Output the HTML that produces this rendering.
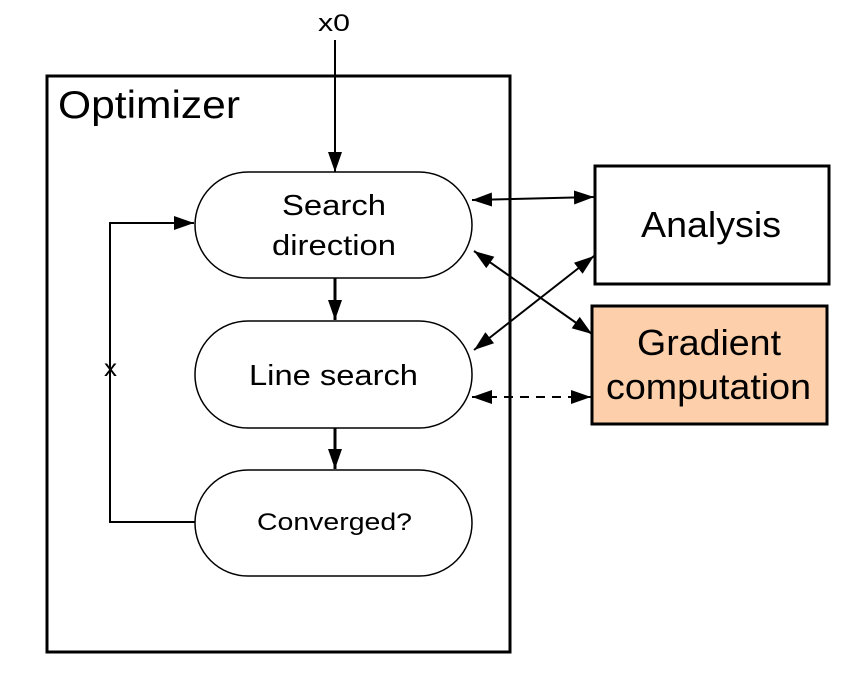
<!DOCTYPE html>
<html><head><style>body{margin:0;background:#fff}svg{display:block}text{font-family:"Liberation Sans",Arial,sans-serif;fill:#000}</style></head><body>
<svg width="848" height="680" viewBox="0 0 848 680">
<defs><marker id="b" viewBox="0 0 10 10" refX="10" refY="5" markerWidth="20" markerHeight="14" markerUnits="userSpaceOnUse" orient="auto-start-reverse" preserveAspectRatio="none"><path d="M0,0L10,5L0,10z" fill="#000"/></marker></defs>
<rect x="47" y="76" width="463" height="576" fill="none" stroke="#000" stroke-width="3"/>
<text x="58" y="118" font-size="39" textLength="182" lengthAdjust="spacingAndGlyphs">Optimizer</text>
<text x="318" y="31" font-size="24" textLength="32" lengthAdjust="spacingAndGlyphs">x0</text>
<g fill="#fff" stroke="#000" stroke-width="1.5">
<rect x="195" y="172" width="277" height="106" rx="53"/>
<rect x="195" y="321" width="277" height="107" rx="53"/>
<rect x="195" y="470" width="277" height="106" rx="53"/>
</g>
<rect x="595" y="166" width="234" height="118" fill="#fff" stroke="#000" stroke-width="3"/>
<rect x="592" y="306" width="235" height="118" fill="#fdd0ab" stroke="#000" stroke-width="3"/>
<text x="282" y="215" font-size="29" textLength="104" lengthAdjust="spacingAndGlyphs">Search</text>
<text x="272" y="255" font-size="29" textLength="124" lengthAdjust="spacingAndGlyphs">direction</text>
<text x="249" y="385" font-size="29" textLength="169" lengthAdjust="spacingAndGlyphs">Line search</text>
<text x="257" y="530" font-size="24" textLength="155" lengthAdjust="spacingAndGlyphs">Converged?</text>
<text x="641" y="237" font-size="36" textLength="140" lengthAdjust="spacingAndGlyphs">Analysis</text>
<text x="637" y="355" font-size="36" textLength="144" lengthAdjust="spacingAndGlyphs">Gradient</text>
<text x="606" y="399" font-size="36" textLength="205" lengthAdjust="spacingAndGlyphs">computation</text>
<text x="104" y="376" font-size="23" textLength="13" lengthAdjust="spacingAndGlyphs">x</text>
<g stroke="#000" stroke-width="2" fill="none">
<line x1="335" y1="40" x2="335" y2="172" marker-end="url(#b)"/>
<line x1="335" y1="278" x2="335" y2="320" marker-end="url(#b)" stroke-width="3"/>
<line x1="335" y1="428" x2="335" y2="469" marker-end="url(#b)" stroke-width="3"/>
<polyline points="195,522 110,522 110,223 194,223" marker-end="url(#b)"/>
<line x1="472" y1="200" x2="594" y2="197" marker-start="url(#b)" marker-end="url(#b)"/>
<line x1="474" y1="251" x2="592" y2="334" marker-start="url(#b)" marker-end="url(#b)"/>
<line x1="474" y1="350" x2="594" y2="256" marker-start="url(#b)" marker-end="url(#b)"/>
<line x1="472" y1="397" x2="591" y2="397" stroke-dasharray="9,7" marker-start="url(#b)" marker-end="url(#b)"/>
</g>
</svg>
</body></html>
